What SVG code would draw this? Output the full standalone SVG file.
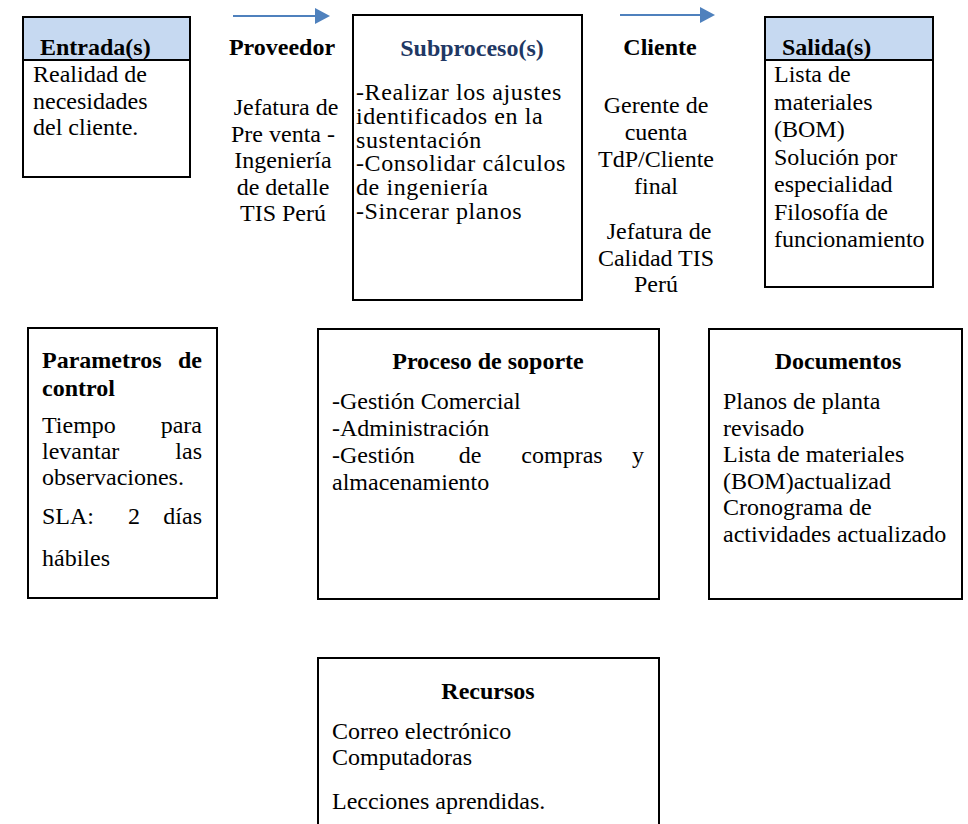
<svg xmlns="http://www.w3.org/2000/svg" width="968" height="824" viewBox="0 0 968 824" font-family="Liberation Serif, Times New Roman, serif" font-size="24">
  <defs>
    <marker id="arrowhead" viewBox="0 0 15 16" refX="0" refY="8" markerWidth="15" markerHeight="16" markerUnits="userSpaceOnUse" orient="auto">
      <path d="M0,0 L15,8 L0,16 Z" fill="#4f81bd"/>
    </marker>
  </defs>
  <style>
    text { font-family: 'Liberation Serif', 'Times New Roman', serif; font-size: 24px; fill: #000; }
    .box { fill: #fff; stroke: #000; stroke-width: 2; }
    .head { fill: #c6d9f1; stroke: #000; stroke-width: 2; }
    .b { font-weight: bold; }
    .c { text-anchor: middle; }
    .e { text-anchor: end; }
    .navy { fill: #1f3864; }
    .wide { letter-spacing: 0.6px; }
    .flow { stroke: #4f81bd; stroke-width: 2; fill: none; }
  </style>
  <rect width="968" height="824" fill="#fff"/>

  <!-- flow arrows -->
  <g id="connectors">
    <line class="flow" x1="233" y1="16" x2="315" y2="16" marker-end="url(#arrowhead)"/>
    <line class="flow" x1="620" y1="15" x2="700" y2="15" marker-end="url(#arrowhead)"/>
  </g>

  <!-- inputs -->
  <g id="entrada">
    <rect class="box" x="23" y="17" width="167" height="160"/>
    <rect class="head" x="23" y="17" width="167" height="43"/>
    <text class="b" x="40" y="55">Entrada(s)</text>
    <text x="33" y="82">Realidad de</text>
    <text x="33" y="108.5">necesidades</text>
    <text x="33" y="135">del cliente.</text>
  </g>

  <g id="proveedor">
    <text class="b c" x="282" y="55">Proveedor</text>
    <text class="c" x="286" y="115">Jefatura de</text>
    <text class="c" x="283" y="141.5">Pre venta -</text>
    <text class="c" x="283" y="168">Ingeniería</text>
    <text class="c" x="283" y="194.5">de detalle</text>
    <text class="c" x="283" y="221">TIS Perú</text>
  </g>

  <g id="subproceso">
    <rect class="box" x="353" y="15" width="229" height="285"/>
    <text class="b c navy" x="472" y="56">Subproceso(s)</text>
    <text class="wide" x="356" y="100">-Realizar los ajustes</text>
    <text class="wide" x="356" y="124">identificados en la</text>
    <text class="wide" x="356" y="147.5">sustentación</text>
    <text class="wide" x="356" y="171">-Consolidar cálculos</text>
    <text class="wide" x="356" y="195">de ingeniería</text>
    <text class="wide" x="356" y="218.5">-Sincerar planos</text>
  </g>

  <g id="cliente">
    <text class="b c" x="660" y="55">Cliente</text>
    <text class="c" x="656" y="113">Gerente de</text>
    <text class="c" x="656" y="140">cuenta</text>
    <text class="c" x="656" y="167">TdP/Cliente</text>
    <text class="c" x="656" y="194">final</text>
    <text class="c" x="659" y="239">Jefatura de</text>
    <text class="c" x="656" y="265.5">Calidad TIS</text>
    <text class="c" x="656" y="292">Perú</text>
  </g>

  <g id="salida">
    <rect class="box" x="765" y="17" width="168" height="270"/>
    <rect class="head" x="765" y="17" width="168" height="43"/>
    <text class="b" x="782" y="55">Salida(s)</text>
    <text x="774" y="82">Lista de</text>
    <text x="774" y="109.5">materiales</text>
    <text x="774" y="137">(BOM)</text>
    <text x="774" y="164.5">Solución por</text>
    <text x="774" y="192">especialidad</text>
    <text x="774" y="219.5">Filosofía de</text>
    <text x="774" y="247">funcionamiento</text>
  </g>

  <!-- controls, support and documents -->
  <g id="parametros">
    <rect class="box" x="28" y="328" width="189" height="270"/>
    <text class="b" x="42" y="368">Parametros</text>
    <text class="b e" x="202" y="368">de</text>
    <text class="b" x="42" y="396">control</text>
    <text x="42" y="433">Tiempo</text>
    <text class="e" x="202" y="433">para</text>
    <text x="42" y="459">levantar</text>
    <text class="e" x="202" y="459">las</text>
    <text x="42" y="485">observaciones.</text>
    <text x="42" y="524">SLA:</text>
    <text class="c" x="134" y="524">2</text>
    <text class="e" x="202" y="524">días</text>
    <text x="42" y="566">hábiles</text>
  </g>

  <g id="proceso-soporte">
    <rect class="box" x="318" y="329" width="341" height="270"/>
    <text class="b c" x="488" y="369">Proceso de soporte</text>
    <text x="332" y="409">-Gestión Comercial</text>
    <text x="332" y="436">-Administración</text>
    <text x="332" y="463">-Gestión</text>
    <text class="c" x="470" y="463">de</text>
    <text class="c" x="562" y="463">compras</text>
    <text class="e" x="644" y="463">y</text>
    <text x="332" y="490">almacenamiento</text>
  </g>

  <g id="documentos">
    <rect class="box" x="709" y="329" width="253" height="270"/>
    <text class="b c" x="838" y="369">Documentos</text>
    <text x="723" y="409">Planos de planta</text>
    <text x="723" y="435.5">revisado</text>
    <text x="723" y="462">Lista de materiales</text>
    <text x="723" y="488.5">(BOM)actualizad</text>
    <text x="723" y="515">Cronograma de</text>
    <text x="723" y="541.5">actividades actualizado</text>
  </g>

  <!-- resources -->
  <g id="recursos">
    <rect class="box" x="318" y="658" width="341" height="180"/>
    <text class="b c" x="488" y="699">Recursos</text>
    <text x="332" y="739">Correo electrónico</text>
    <text x="332" y="765">Computadoras</text>
    <text x="332" y="809">Lecciones aprendidas.</text>
  </g>
</svg>
